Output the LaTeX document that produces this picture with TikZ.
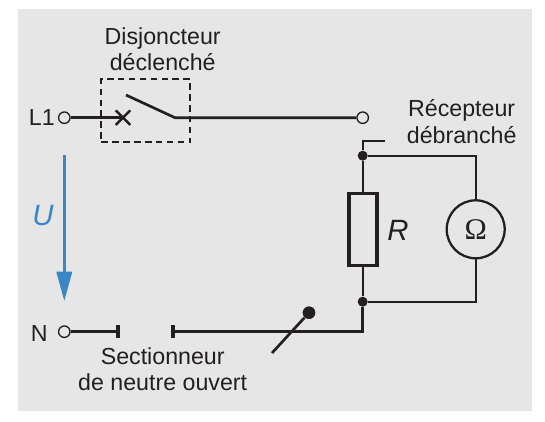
\documentclass[tikz,border=0pt]{standalone}
\usepackage{fontspec}
\setmainfont{Liberation Sans}
\newfontfamily\omegafont{Liberation Serif}
\usetikzlibrary{arrows.meta,shapes.misc}
\definecolor{panelgray}{HTML}{E6E6E6}
\definecolor{wireblack}{HTML}{231F20}
\definecolor{arrowblue}{HTML}{3B86C6}
\tikzset{
  wire/.style={wireblack, line width=2pt},
  thinwire/.style={wireblack, line width=1.7pt},
  terminal/.style={circle, draw=wireblack, line width=1pt, minimum size=8.6pt, inner sep=0pt},
  junction/.style={circle, fill=wireblack, minimum size=7.5pt, inner sep=0pt},
  contact/.style={rectangle, fill=wireblack, minimum width=3pt, minimum height=10pt, inner sep=0pt},
  label/.style={text=wireblack, font=\fontsize{17.4}{20}\selectfont, align=center, inner sep=0pt}
}
\begin{document}
\begin{tikzpicture}[x=0.75pt, y=-0.75pt]
  \useasboundingbox (0,0) rectangle (545,421);
  % Draw background panel
  \fill[panelgray] (18,9) rectangle (532,411);

  % Phase line with tripped breaker
  \node[terminal] (L1) at (64.3,117.7) {};
  \node[cross out, draw=wireblack, line width=1.9pt, minimum size=9pt, inner sep=0pt] (trip) at (123,117.7) {};
  \coordinate (bladeTop) at (126,95);
  \coordinate (bladeEnd) at (175,117.7);
  \node[terminal] (L1out) at (362.7,117.7) {};
  \draw[wire] (L1) -- (trip.center);
  \draw[wire] (bladeTop) -- (bladeEnd) -- (L1out);
  \node[draw=wireblack, dashed, line width=1.5pt, dash pattern=on 5pt off 3.2pt, minimum width=67pt, minimum height=47.5pt, inner sep=0pt] (breaker) at (145.8,110.8) {};
  \node[label, anchor=base] (breakerText) at (162.7,70.7) {Disjoncteur\\d\'eclench\'e};
  \node[label, anchor=base east] (L1text) at (55,125) {L1};

  % Voltage arrow
  \coordinate (arrowStart) at (64.3,155);
  \coordinate (arrowTip) at (64.3,301);
  \draw[arrowblue, line width=2pt, -{Triangle[length=22pt, width=11.5pt]}] (arrowStart) -- (arrowTip);
  \node[label, text=arrowblue, font=\fontsize{22}{20}\selectfont\itshape] (Utext) at (43,216) {U};

  % Neutral line with open disconnector
  \node[terminal] (N) at (64.3,331.7) {};
  \node[contact] (contactL) at (118,331.7) {};
  \node[contact] (contactR) at (173,331.7) {};
  \node[junction] (dotBottom) at (362.7,301.7) {};
  \draw[wire] (N) -- (contactL.center);
  \draw[wire] (contactR.center) -| (dotBottom);
  \node[label, anchor=base east] (Ntext) at (48,341) {N};
  \coordinate (handleEnd) at (272,353);
  \node[circle, fill=wireblack, minimum size=9.5pt, inner sep=0pt] (handleDot) at (309,312.7) {};
  \draw[wire] (handleEnd) -- (handleDot);
  \node[label, anchor=base] (neutralText) at (162.7,390.7) {Sectionneur\\de neutre ouvert};

  % Load with resistor and ohmmeter
  \node[junction] (dotTop) at (362.7,155.7) {};
  \coordinate (stub) at (385.3,140.7);
  \draw[thinwire] (dotTop) |- (stub);
  \node[rectangle, draw=wireblack, line width=2.8pt, minimum width=21pt, minimum height=54pt, inner sep=0pt] (resistor) at (362.7,229.5) {};
  \node[circle, draw=wireblack, line width=1.7pt, minimum size=43.5pt, inner sep=0pt, text=wireblack, font=\omegafont\fontsize{22.5}{20}\selectfont] (ohmmeter) at (475.7,229.3) {Ω};
  \draw[thinwire] (dotTop) -- (resistor);
  \draw[thinwire] (resistor) -- (dotBottom);
  \draw[thinwire] (dotTop) -| (ohmmeter);
  \draw[thinwire] (dotBottom) -| (ohmmeter);
  \node[label, font=\fontsize{22}{20}\selectfont\itshape] (Rtext) at (398,230) {R};
  \node[label, anchor=base] (loadText) at (461.7,143.3) {R\'ecepteur\\d\'ebranch\'e};
\end{tikzpicture}
\end{document}
